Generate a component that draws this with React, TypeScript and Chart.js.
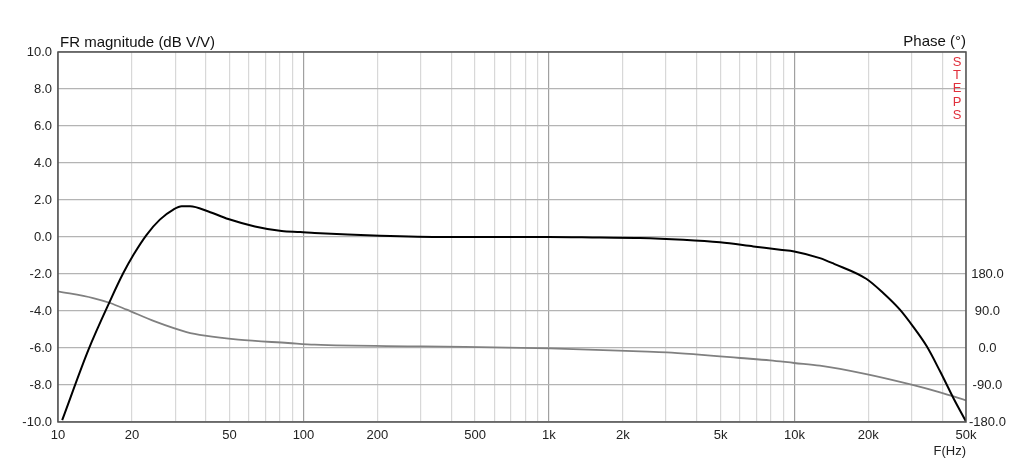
import { useEffect, useRef } from 'react';
import { Chart, registerables } from 'chart.js';

Chart.register(...registerables);

// frequency response
const magFreq = [10.4, 13.3, 16.3, 18.45, 20.3, 22.96, 26, 29.5, 31.9, 34.5, 41, 49.4, 63.4, 81.5, 97, 111, 205, 383, 1000, 1614, 2350, 3525, 4975, 6800, 8740, 9980, 12700, 14500, 19680, 23000, 26900, 30500, 34600, 39200, 44400, 50000];
const magDb = [-9.9, -6.1, -3.45, -1.95, -0.96, 0.12, 0.94, 1.48, 1.66, 1.66, 1.38, 0.97, 0.57, 0.32, 0.27, 0.22, 0.07, 0.0, 0.0, -0.03, -0.05, -0.15, -0.29, -0.51, -0.69, -0.78, -1.14, -1.45, -2.27, -3.03, -3.93, -4.86, -5.91, -7.26, -8.7, -9.97];

const phaseFreq = [10, 13.9, 16.3, 19.06, 24.8, 33.4, 39.7, 54.2, 86.5, 111, 307, 1010, 2350, 3015, 3970, 4975, 6010, 7960, 9980, 12700, 19400, 30000, 39200, 50000];
const phaseDeg = [138, 121.6, 109.5, 93.2, 64.7, 38.9, 29.9, 20.2, 12.2, 8, 3.9, -1, -8.3, -10.7, -15.6, -20.4, -24.3, -30.1, -36.5, -43, -63, -89.3, -108, -127.5];

const freqLabels = [10, 20, 50, 100, 200, 500, 1000, 2000, 5000, 10000, 20000, 50000];
const phaseTicks = [-180, -90, 0, 90, 180];

const FONT = '"Liberation Sans", Arial, sans-serif';

// 1..9 per decade, up to 50k
const gridFreqs: number[] = [];
for (const d of [10, 100, 1000, 10000]) {
  for (let m = 1; m <= 9; m++) {
    if (m * d <= 50000) gridFreqs.push(m * d);
  }
}

const fmtFreq = (v: number) => (v >= 1000 ? `${v / 1000}k` : `${v}`);

const decorations = {
  id: 'decorations',
  afterDraw(chart: Chart) {
    const { ctx, chartArea } = chart;
    const { left, right, top, bottom } = chartArea;
    ctx.save();
    ctx.strokeStyle = '#505050';
    ctx.lineWidth = 1.5;
    ctx.strokeRect(left, top, right - left, bottom - top);

    ctx.fillStyle = '#111';
    ctx.font = `15px ${FONT}`;
    ctx.textBaseline = 'alphabetic';
    ctx.textAlign = 'left';
    ctx.fillText('FR magnitude (dB V/V)', left + 2, 47);
    ctx.textAlign = 'right';
    ctx.fillText('Phase (°)', right, 46);

    ctx.font = `13px ${FONT}`;
    ctx.fillStyle = '#222';
    ctx.fillText('F(Hz)', right, 455);

    ctx.fillStyle = '#e0303c';
    ctx.textAlign = 'center';
    ctx.textBaseline = 'middle';
    'STEPS'.split('').forEach((c, i) => {
      ctx.fillText(c, right - 9, 62 + i * 13.4);
    });
    ctx.restore();
  },
};

export default function App() {
  const canvasRef = useRef<HTMLCanvasElement>(null);
  const chartRef = useRef<Chart | null>(null);

  useEffect(() => {
    document.body.style.margin = '0';
    if (!canvasRef.current) return;
    if (chartRef.current) chartRef.current.destroy();
    const ctx = canvasRef.current.getContext('2d');
    if (!ctx) return;

    chartRef.current = new Chart(ctx, {
      type: 'line',
      data: {
        datasets: [
          {
            label: 'Magnitude',
            data: magFreq.map((f, i) => ({ x: f, y: magDb[i] })),
            borderColor: '#000',
            borderWidth: 2,
            pointRadius: 0,
            cubicInterpolationMode: 'monotone',
            yAxisID: 'y',
          },
          {
            label: 'Phase',
            data: phaseFreq.map((f, i) => ({ x: f, y: phaseDeg[i] })),
            borderColor: '#808080',
            borderWidth: 1.8,
            pointRadius: 0,
            cubicInterpolationMode: 'monotone',
            yAxisID: 'y2',
          },
        ],
      },
      options: {
        responsive: true,
        maintainAspectRatio: false,
        animation: false,
        layout: { padding: { top: 52, left: 0, right: 0, bottom: 0 } },
        plugins: {
          legend: { display: false },
          tooltip: { enabled: false },
        },
        scales: {
          x: {
            type: 'logarithmic',
            min: 10,
            max: 50000,
            afterBuildTicks: (scale: any) => {
              scale.ticks = gridFreqs.map((v) => ({ value: v }));
            },
            afterFit: (scale: any) => {
              scale.height = 52;
            },
            ticks: {
              autoSkip: false,
              maxRotation: 0,
              padding: 6,
              color: '#222',
              font: { size: 13, family: FONT },
              callback: (v: any) => (freqLabels.includes(Number(v)) ? fmtFreq(Number(v)) : ''),
            },
            grid: {
              drawTicks: false,
              lineWidth: 1.2,
              color: (c: any) => {
                const v = c.tick?.value ?? 0;
                return Math.abs(Math.log10(v) - Math.round(Math.log10(v))) < 1e-9 ? '#a0a0a0' : '#d8d8d8';
              },
            },
            border: { display: false },
          },
          y: {
            position: 'left',
            min: -10,
            max: 10,
            afterFit: (scale: any) => {
              scale.width = 58;
            },
            ticks: {
              stepSize: 2,
              padding: 6,
              color: '#222',
              font: { size: 13, family: FONT },
              callback: (v: any) => Number(v).toFixed(1),
            },
            grid: { drawTicks: false, color: '#b4b4b4', lineWidth: 1.2 },
            border: { display: false },
          },
          y2: {
            position: 'right',
            min: -180,
            max: 720,
            afterBuildTicks: (scale: any) => {
              scale.ticks = phaseTicks.map((v) => ({ value: v }));
            },
            afterFit: (scale: any) => {
              scale.width = 58;
            },
            ticks: {
              padding: 3,
              crossAlign: 'center',
              color: '#222',
              font: { size: 13, family: FONT },
              callback: (v: any) => Number(v).toFixed(1),
            },
            grid: { display: false, drawTicks: false },
            border: { display: false },
          },
        },
      },
      plugins: [decorations],
    } as any);

    return () => {
      if (chartRef.current) {
        chartRef.current.destroy();
        chartRef.current = null;
      }
    };
  }, []);

  return (
    <div style={{ position: 'fixed', left: 0, top: 0, width: '1024px', height: '474px', background: '#fff' }}>
      <canvas ref={canvasRef}></canvas>
    </div>
  );
}
